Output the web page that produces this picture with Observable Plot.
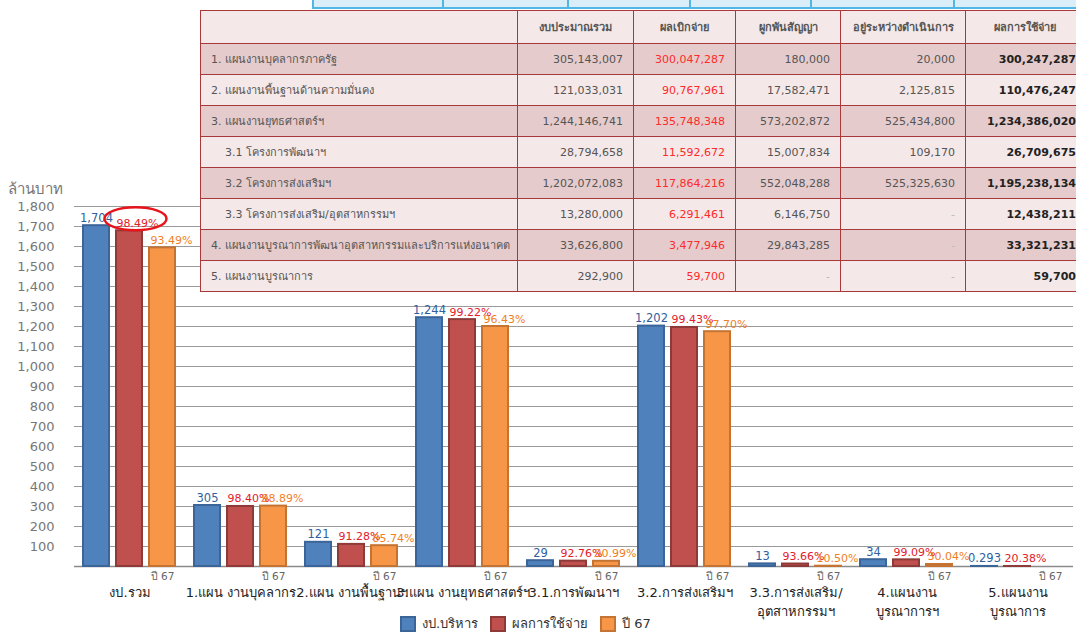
<!DOCTYPE html>
<html><head><meta charset="utf-8">
<script src="https://cdn.jsdelivr.net/npm/d3@7"></script>
<script src="https://cdn.jsdelivr.net/npm/@observablehq/plot@0.6"></script>
<style>
html,body{margin:0;padding:0;background:#fff;}
#wrap{position:relative;width:1076px;height:635px;overflow:hidden;font-family:Tahoma,"DejaVu Sans",sans-serif;}
#chart{position:absolute;left:0;top:0;}
#ylabel{position:absolute;left:8px;top:177px;font-size:15px;color:#777;}
#legend{position:absolute;left:400px;top:614px;height:20px;display:flex;align-items:center;font-size:13px;line-height:16px;color:#333;}
#legend .it{display:flex;align-items:center;margin-right:12px;}
#legend .sw{width:12px;height:12px;border:2px solid;margin-right:6px;}
#strip{position:absolute;left:312px;top:-2px;height:9px;width:770px;display:flex;}
#strip div{border:2px solid #4fb6e6;background:#d9eef8;height:7px;margin-right:-2px;}
#tbl{position:absolute;left:200px;top:10px;}
#tbl table{border-collapse:collapse;font-size:11px;color:#555;table-layout:fixed;width:884px;}
#tbl td,#tbl th{border:1.5px solid #a8393b;height:30px;padding:0 10px;white-space:nowrap;overflow:hidden;}
#tbl th{height:32px;font-weight:bold;color:#555;background:#f4e8e8;text-align:center;}
#tbl tr.d td{background:#e5cbcc;}
#tbl tr.l td{background:#f4e8e8;}
#tbl td.n{text-align:right;}
#tbl td.r{color:#ff2a2a;}
#tbl td.b{color:#222;font-weight:bold;padding-right:8px;}
#tbl td.sub{padding-left:24px;}
</style></head>
<body><div id="wrap">
<div id="chart"></div>
<div id="ylabel">ล้านบาท</div>
<div id="strip"></div>
<div id="tbl"></div>
<div id="legend"></div>
</div>
<script>
// ---- chart data ----
const groups = ["งป.รวม","1.แผน งานบุคลากร","2.แผน งานพื้นฐานฯ","3.แผน งานยุทธศาสตร์ฯ","3.1.การพัฒนาฯ","3.2.การส่งเสริมฯ","3.3.การส่งเสริม/\nอุตสาหกรรมฯ","4.แผนงาน\nบูรณาการฯ","5.แผนงาน\nบูรณาการ"];
const series = ["งป.บริหาร","ผลการใช้จ่าย","ปี 67"];
const budget = [1704, 305, 121, 1244, 29, 1202, 13, 34, 0.293];
const spent = [1678.5, 300.2, 110.5, 1234.4, 26.7, 1195.2, 12.4, 33.3, 0.06];
const prev67 = [1593, 302, 104, 1200, 26, 1174, 1.4, 10.1, 0];
const budgetLabels = ["1,704","305","121","1,244","29","1,202","13","34","0.293"];
const spentLabels = ["98.49%","98.40%","91.28%","99.22%","92.76%","99.43%","93.66%","99.09%","20.38%"];
const prevLabels = ["93.49%","98.89%","85.74%","96.43%","90.99%","97.70%","10.50%","30.04%",""];
const yTicks = d3.range(100, 1801, 100);
const subLabel = "ปี 67";

// ---- table data ----
const tableHeader = ["","งบประมาณรวม","ผลเบิกจ่าย","ผูกพันสัญญา","อยู่ระหว่างดำเนินการ","ผลการใช้จ่าย"];
const tableItems = ["1. แผนงานบุคลากรภาครัฐ","2. แผนงานพื้นฐานด้านความมั่นคง","3. แผนงานยุทธศาสตร์ฯ","3.1 โครงการพัฒนาฯ","3.2 โครงการส่งเสริมฯ","3.3 โครงการส่งเสริม/อุตสาหกรรมฯ","4. แผนงานบูรณาการพัฒนาอุตสาหกรรมและบริการแห่งอนาคต","5. แผนงานบูรณาการ"];
const tableBudget = ["305,143,007","121,033,031","1,244,146,741","28,794,658","1,202,072,083","13,280,000","33,626,800","292,900"];
const tableDisbursed = ["300,047,287","90,767,961","135,748,348","11,592,672","117,864,216","6,291,461","3,477,946","59,700"];
const tableCommitted = ["180,000","17,582,471","573,202,872","15,007,834","552,048,288","6,146,750","29,843,285","-"];
const tableInProgress = ["20,000","2,125,815","525,434,800","109,170","525,325,630","-","-","-"];
const tableTotal = ["300,247,287","110,476,247","1,234,386,020","26,709,675","1,195,238,134","12,438,211","33,321,231","59,700"];

const barFill = ["#4f81bd","#c0504d","#f79646"];
const barStroke = ["#3b6498","#8e3a38","#c57332"];
const labelFill = ["#2f5f9f","#e3202a","#ef7f1f"];

const rows = [];
groups.forEach((g, i) => {
  rows.push({group: g, series: series[0], value: budget[i], label: budgetLabels[i]});
  rows.push({group: g, series: series[1], value: spent[i], label: spentLabels[i]});
  rows.push({group: g, series: series[2], value: prev67[i], label: prevLabels[i]});
});

const ellipse = {draw(ctx) {
  const rx = 31, ry = 11.5, k = 0.5523;
  ctx.moveTo(rx, 0);
  ctx.bezierCurveTo(rx, ry * k, rx * k, ry, 0, ry);
  ctx.bezierCurveTo(-rx * k, ry, -rx, ry * k, -rx, 0);
  ctx.bezierCurveTo(-rx, -ry * k, -rx * k, -ry, 0, -ry);
  ctx.bezierCurveTo(rx * k, -ry, rx, -ry * k, rx, 0);
  ctx.closePath();
}};

const marks = [
  Plot.gridY(yTicks, {stroke: "#9a9a9a", strokeOpacity: 1, strokeWidth: 1}),
  Plot.axisY(yTicks, {tickSize: 0, tickPadding: 20, tickFormat: d3.format(","), fontSize: 13, fill: "#777", label: null}),
  Plot.ruleY([0], {stroke: "#8a8a8a", strokeWidth: 1.5})
];
series.forEach((s, k) => {
  marks.push(Plot.barY(rows.filter(d => d.series === s && d.value > 0), {
    fx: "group", x: "series", y: "value", fill: barFill[k], stroke: barStroke[k], strokeWidth: 2
  }));
});
marks.push(Plot.text(rows.filter(d => d.series === series[0]), {
  fx: "group", x: "series", y: "value", text: "label", fill: labelFill[0], dy: -4, lineAnchor: "bottom", fontSize: 11.5
}));
marks.push(Plot.text(rows.filter(d => d.series === series[1]), {
  fx: "group", x: "series", y: "value", text: "label", fill: labelFill[1], dy: -4, dx: -13, textAnchor: "start", lineAnchor: "bottom", fontSize: 11
}));
marks.push(Plot.text(rows.filter(d => d.series === series[2] && d.label), {
  fx: "group", x: "series", y: "value", text: "label", fill: labelFill[2], dy: -4, dx: -12, textAnchor: "start", lineAnchor: "bottom", fontSize: 11
}));
marks.push(Plot.text(groups, {
  fx: d => d, x: () => subLabel, y: () => 0, text: () => subLabel, dy: 10, fontSize: 10.5, fill: "#666", lineAnchor: "middle"
}));
marks.push(Plot.dot(rows.filter(d => d.group === groups[0] && d.series === series[1]), {
  fx: "group", x: "series", y: "value", dx: 6, dy: -12, symbol: ellipse, stroke: "#e8141c", strokeWidth: 2.5, fill: "none"
}));
marks.push(Plot.axisFx({anchor: "bottom", tickSize: 0, tickPadding: 18, fontSize: 13, fill: "#222", lineHeight: 1.4, label: null}));

const chart = Plot.plot({
  width: 1076, height: 615,
  marginLeft: 70, marginRight: 0, marginTop: 206, marginBottom: 49,
  style: {fontFamily: "Tahoma, 'DejaVu Sans', sans-serif", background: "transparent", overflow: "visible"},
  fx: {domain: groups, padding: 0, label: null},
  x: {domain: series, paddingInner: 0.2, paddingOuter: 0.27, axis: null},
  y: {domain: [0, 1800], axis: null},
  marks
});
document.getElementById("chart").appendChild(chart);

// legend
const lg = document.getElementById("legend");
series.forEach((s, k) => {
  const it = document.createElement("div"); it.className = "it";
  const sw = document.createElement("div"); sw.className = "sw";
  sw.style.background = barFill[k]; sw.style.borderColor = barStroke[k];
  const t = document.createElement("span"); t.textContent = s;
  it.appendChild(sw); it.appendChild(t); lg.appendChild(it);
});

// top strip
const stripWidths = [131, 125, 122, 122, 143, 130];
const st = document.getElementById("strip");
stripWidths.forEach(w => { const b = document.createElement("div"); b.style.width = (w - 2) + "px"; st.appendChild(b); });

// table
const colW = [317, 116, 102, 105, 125, 119];
const tb = document.createElement("table");
const cg = document.createElement("colgroup");
colW.forEach(w => { const c = document.createElement("col"); c.style.width = w + "px"; cg.appendChild(c); });
tb.appendChild(cg);
const hr = document.createElement("tr");
tableHeader.forEach(h => { const th = document.createElement("th"); th.textContent = h; hr.appendChild(th); });
tb.appendChild(hr);
const darkRows = [0, 2, 4, 6];
tableItems.forEach((name, i) => {
  const tr = document.createElement("tr");
  tr.className = darkRows.includes(i) ? "d" : "l";
  const cells = [name, tableBudget[i], tableDisbursed[i], tableCommitted[i], tableInProgress[i], tableTotal[i]];
  cells.forEach((v, j) => {
    const td = document.createElement("td");
    td.textContent = v;
    if (j === 0) { if (/^3\.\d/.test(name)) td.className = "sub"; }
    else td.className = "n" + (j === 2 ? " r" : "") + (j === 5 ? " b" : "");
    if (v === "-") { td.style.color = "#bbb"; }
    tr.appendChild(td);
  });
  tb.appendChild(tr);
});
document.getElementById("tbl").appendChild(tb);
</script>
</body></html>
